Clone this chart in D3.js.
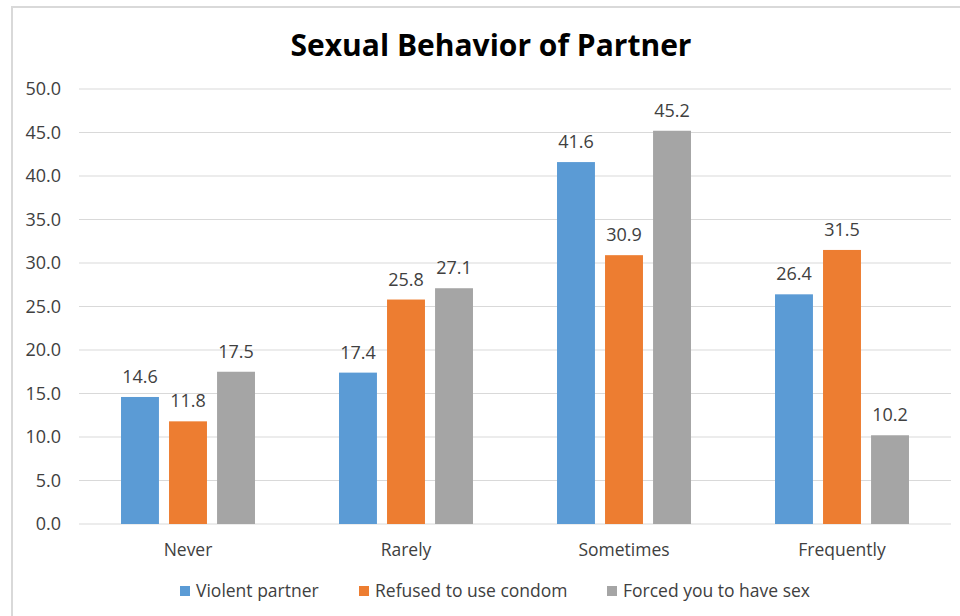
<!DOCTYPE html>
<html>
<head>
<meta charset="utf-8">
<script src="https://cdn.jsdelivr.net/npm/d3@7"></script>
<style>
  body { margin: 0; background: #fff; }
  text { font-family: "Open Sans", "Liberation Sans", sans-serif; }
</style>
</head>
<body>
<svg id="chart" width="960" height="616"></svg>
<script>
var categories = ['Never', 'Rarely', 'Sometimes', 'Frequently'];
var seriesNames = ['Violent partner', 'Refused to use condom', 'Forced you to have sex'];
var violent = [14.6, 17.4, 41.6, 26.4];
var refused = [11.8, 25.8, 30.9, 31.5];
var forced = [17.5, 27.1, 45.2, 10.2];
var yTicks = [0, 5, 10, 15, 20, 25, 30, 35, 40, 45, 50];
var colors = ['#5b9bd5', '#ed7d31', '#a5a5a5'];

var series = [violent, refused, forced];

var svg = d3.select('#chart');

// outer frame
svg.append('rect')
  .attr('x', 12).attr('y', 7)
  .attr('width', 960).attr('height', 620)
  .attr('fill', 'none')
  .attr('stroke', '#d9d9d9')
  .attr('stroke-width', 2);

svg.append('text')
  .attr('x', 491).attr('y', 56)
  .attr('text-anchor', 'middle')
  .style('font-size', '30px')
  .style('font-weight', 'bold')
  .attr('fill', '#000')
  .text('Sexual Behavior of Partner');

var x0 = d3.scaleBand().domain(categories).range([79, 951]).paddingInner(0).paddingOuter(0);
var x1 = d3.scaleBand().domain(d3.range(series.length))
  .range([0, x0.bandwidth()]).paddingInner(0.21).paddingOuter(0.875);
var y = d3.scaleLinear().domain([0, 50]).range([524, 89]);

// gridlines
svg.append('g').selectAll('line')
  .data(yTicks).enter()
  .append('line')
  .attr('x1', 79).attr('x2', 951)
  .attr('y1', function(d){ return y(d); })
  .attr('y2', function(d){ return y(d); })
  .attr('stroke', '#d9d9d9')
  .attr('stroke-width', 1);

// y labels
svg.append('g').selectAll('text')
  .data(yTicks).enter()
  .append('text')
  .attr('x', 61)
  .attr('y', function(d){ return y(d); })
  .attr('dy', '0.35em')
  .attr('text-anchor', 'end')
  .style('font-size', '18px')
  .attr('fill', '#404040')
  .text(function(d){ return d.toFixed(1); });

// bars
var groups = svg.append('g').selectAll('g')
  .data(categories).enter()
  .append('g')
  .attr('transform', function(d){ return 'translate(' + x0(d) + ',0)'; });

groups.selectAll('rect')
  .data(function(d, i){ return series.map(function(s, j){ return {s: j, v: s[i]}; }); })
  .enter()
  .append('rect')
  .attr('x', function(d){ return x1(d.s); })
  .attr('width', x1.bandwidth())
  .attr('y', function(d){ return y(d.v); })
  .attr('height', function(d){ return y(0) - y(d.v); })
  .attr('fill', function(d){ return colors[d.s]; });

groups.selectAll('text.val')
  .data(function(d, i){ return series.map(function(s, j){ return {s: j, v: s[i]}; }); })
  .enter()
  .append('text')
  .attr('class', 'val')
  .attr('x', function(d){ return x1(d.s) + x1.bandwidth() / 2; })
  .attr('y', function(d){ return y(d.v) - 14; })
  .attr('text-anchor', 'middle')
  .style('font-size', '18px')
  .attr('fill', '#404040')
  .text(function(d){ return d.v.toFixed(1); });

// x labels
svg.append('g').selectAll('text')
  .data(categories).enter()
  .append('text')
  .attr('x', function(d){ return x0(d) + x0.bandwidth() / 2; })
  .attr('y', 556)
  .attr('text-anchor', 'middle')
  .style('font-size', '17.5px')
  .attr('fill', '#404040')
  .text(function(d){ return d; });

// legend
var legendX = [180, 359, 607];
var legend = svg.append('g').selectAll('g')
  .data(seriesNames).enter()
  .append('g')
  .attr('transform', function(d, i){ return 'translate(' + legendX[i] + ',586)'; });

legend.append('rect')
  .attr('width', 10).attr('height', 10)
  .attr('fill', function(d, i){ return colors[i]; });

legend.append('text')
  .attr('x', 16).attr('y', 5)
  .attr('dy', '0.35em')
  .style('font-size', '17.5px')
  .attr('fill', '#404040')
  .text(function(d){ return d; });
</script>
</body>
</html>
